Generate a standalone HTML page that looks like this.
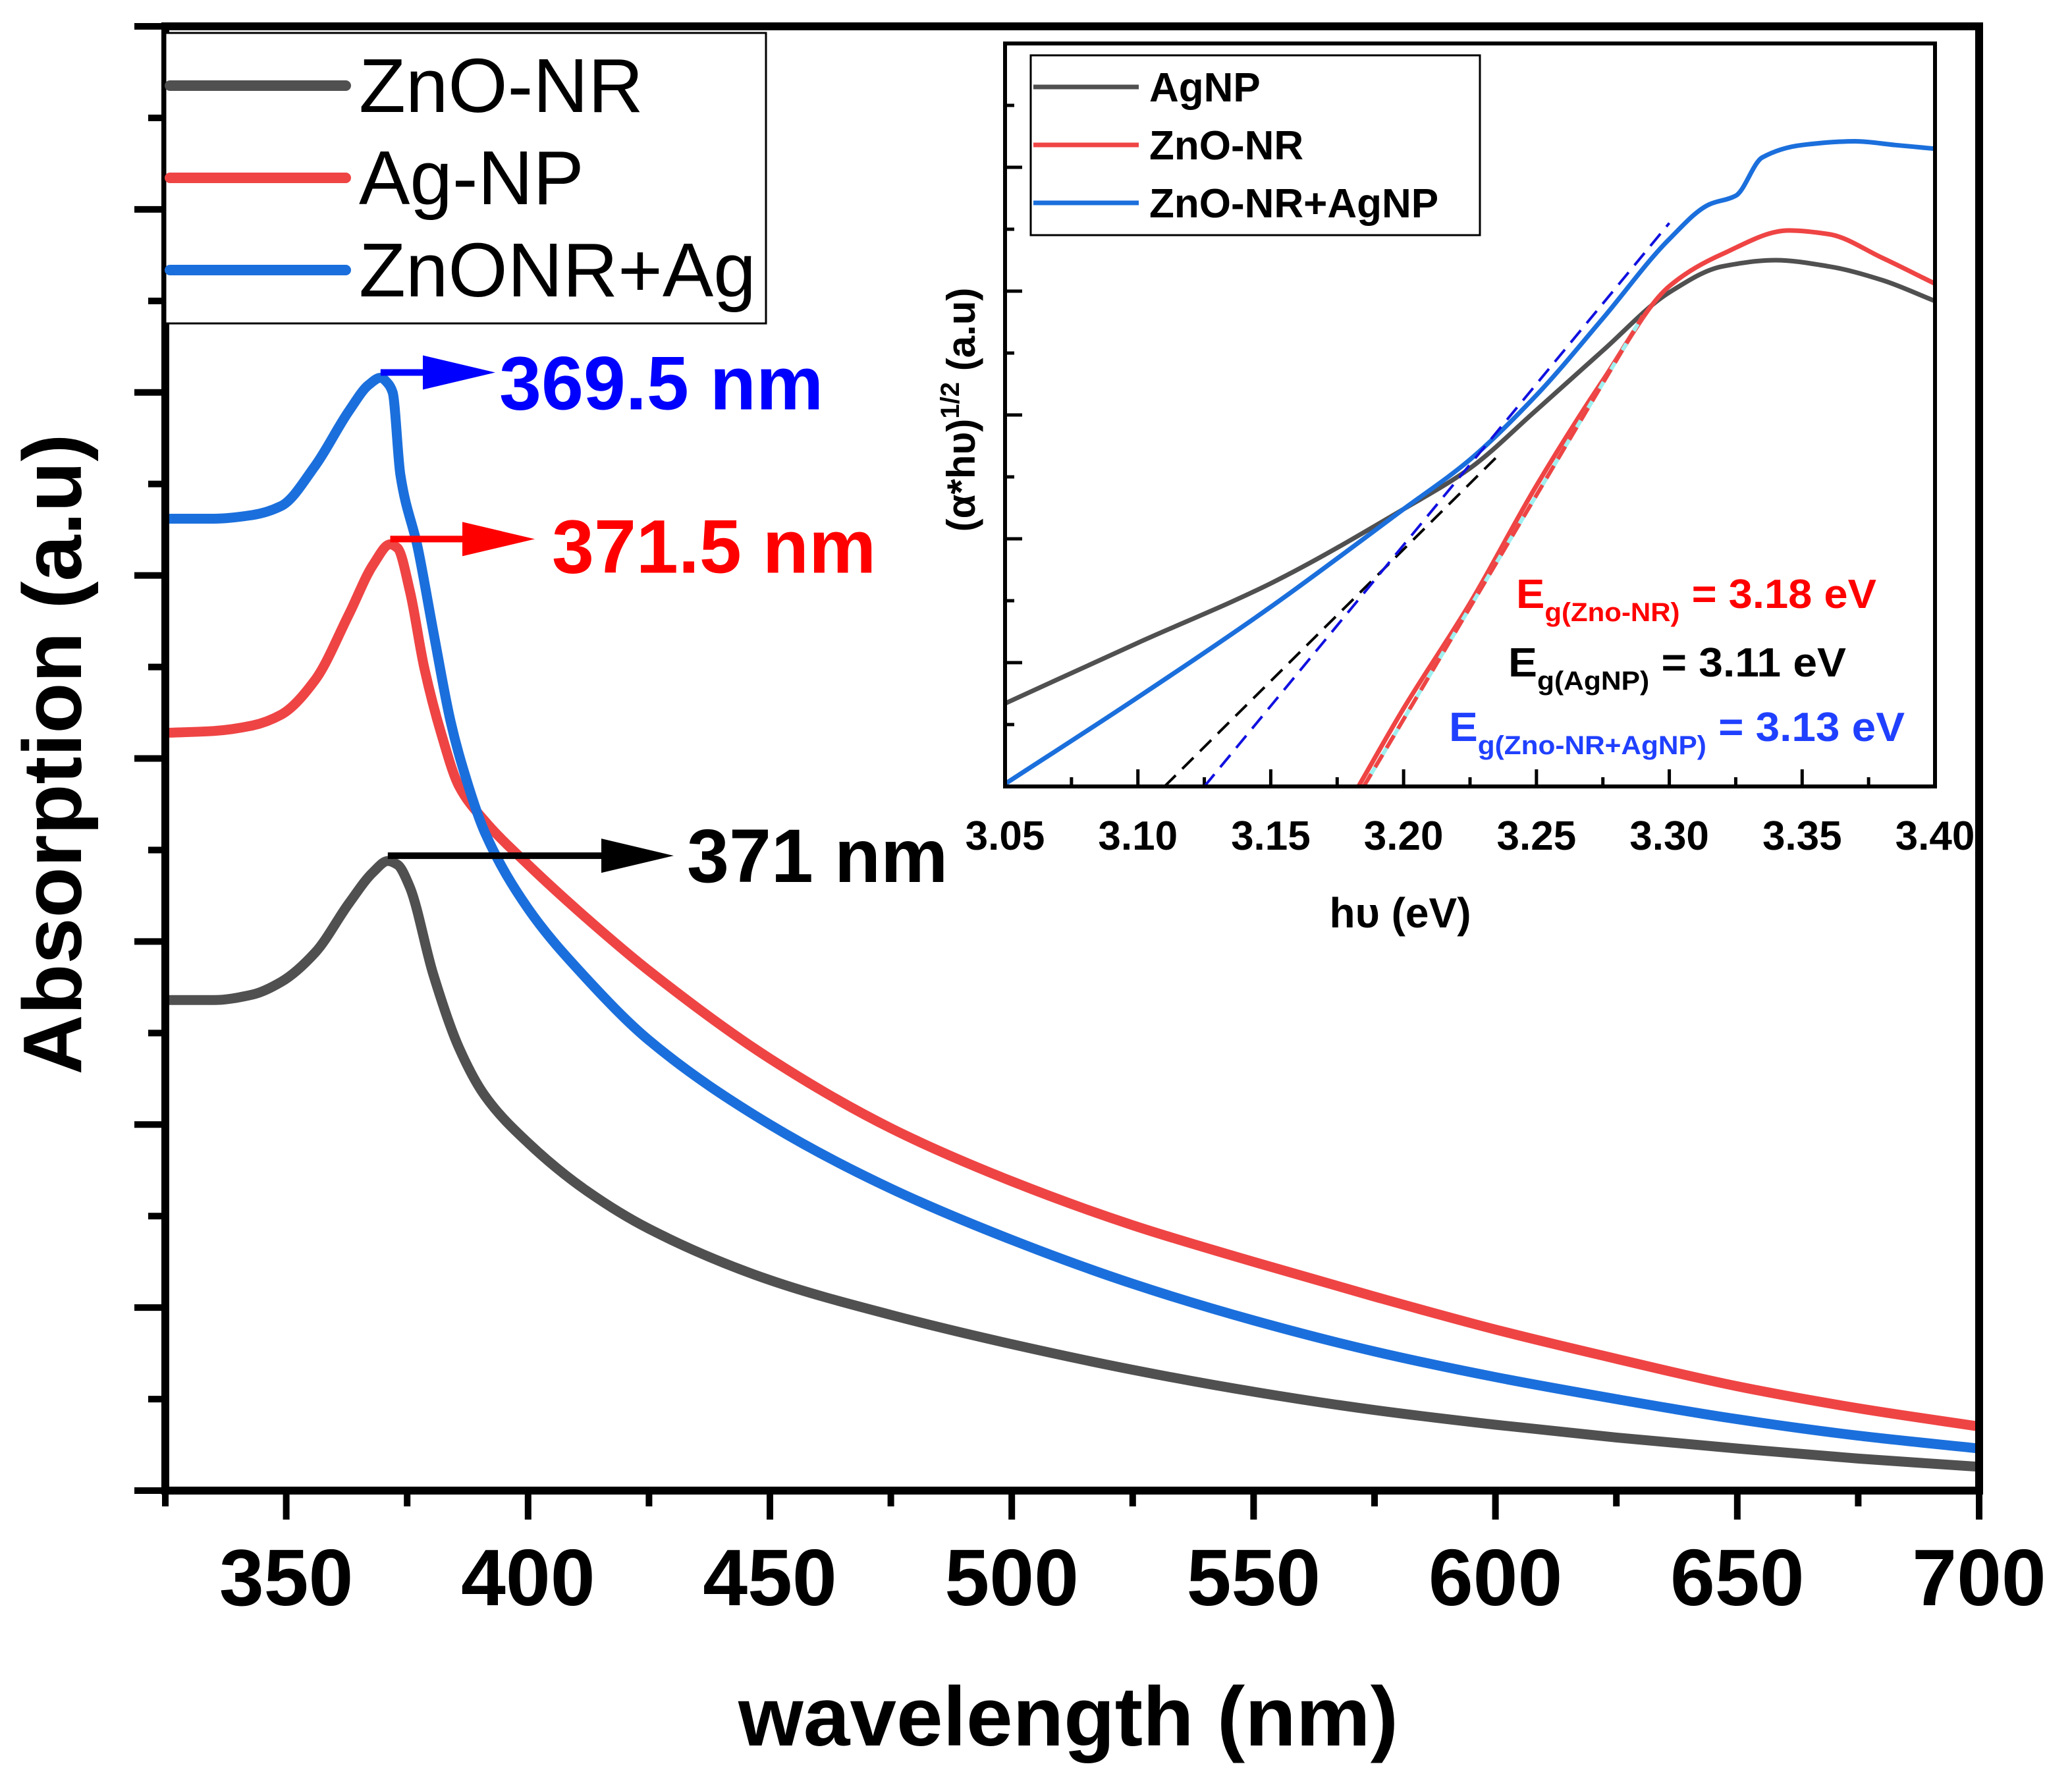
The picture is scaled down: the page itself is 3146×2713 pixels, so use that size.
<!DOCTYPE html>
<html><head><meta charset="utf-8"><style>
html,body{margin:0;padding:0;background:#fff}
svg{display:block}
text{font-family:"Liberation Sans",Arial,sans-serif}
</style></head><body>
<svg id="chart" width="3146" height="2713" viewBox="0 0 3146 2713" xmlns="http://www.w3.org/2000/svg">
<rect width="3146" height="2713" fill="#fff"/>
<g id="main"></g>
<g id="inset"></g>
</svg>
<script>
// ---------- main chart data ----------
const wlBlack = [325,335,343,349,356,363,368,371,373,375.5,380.4,385.7,391,400,412,425,450,475,500,525,550,575,600,625,650,675,700];
const absBlack = [2.68,2.68,2.71,2.78,2.94,3.21,3.38,3.44,3.42,3.3,2.82,2.42,2.16,1.90,1.64,1.43,1.15,0.96,0.80,0.66,0.54,0.44,0.36,0.29,0.23,0.175,0.13];
const wlRed = [325,335,343,349,356,363,368,371.5,373,375.6,378.5,382,385.7,391,400,412,425,450,475,500,525,550,575,600,625,650,675,700];
const absRed = [4.14,4.15,4.18,4.24,4.43,4.79,5.06,5.17,5.15,4.91,4.5,4.14,3.85,3.66,3.42,3.13,2.84,2.36,1.98,1.69,1.45,1.25,1.06,0.88,0.72,0.57,0.45,0.35];
const wlBlue = [325,335,343,349,356,363,367,369.5,371,372,373.6,377.2,380.5,384,386.5,391,400,412,425,450,475,500,525,550,575,600,625,650,675,700];
const absBlue = [5.31,5.31,5.33,5.38,5.6,5.9,6.04,6.08,6.05,6.0,5.55,5.15,4.68,4.2,3.95,3.60,3.18,2.80,2.46,2.00,1.65,1.37,1.13,0.93,0.76,0.62,0.50,0.39,0.30,0.23];
const xTickLabels = [350,400,450,500,550,600,650,700];
const peakWl = [369.5,371.5,371];
const peakLabels = ["369.5 nm","371.5 nm","371 nm"];

// ---------- inset data ----------
const evAg = [3.05,3.10,3.15,3.20,3.225,3.25,3.275,3.30,3.32,3.34,3.36,3.38,3.40];
const yAg = [0.67,1.16,1.64,2.24,2.57,3.04,3.52,3.99,4.2,4.25,4.2,4.09,3.92];
const evZn = [3.183,3.20,3.225,3.25,3.275,3.30,3.32,3.345,3.36,3.38,3.40];
const yZn = [0,0.63,1.48,2.43,3.28,4.04,4.3,4.49,4.46,4.27,4.06];
const evZA = [3.05,3.10,3.15,3.20,3.225,3.25,3.275,3.30,3.315,3.325,3.335,3.35,3.37,3.385,3.40];
const yZA = [0.02,0.72,1.45,2.24,2.64,3.16,3.78,4.42,4.70,4.77,5.08,5.18,5.21,5.18,5.15];
const insetTicks = ["3.05","3.10","3.15","3.20","3.25","3.30","3.35","3.40"];
const gapAg = [3.11,0,3.235,2.66];
const gapZA = [3.125,0,3.30,4.55];
const gapZn = [3.185,0,3.29,3.8];

const NS="http://www.w3.org/2000/svg";
function mk(parent,tag,attrs,name,text){
  const e=document.createElementNS(NS,tag);
  for(const k in attrs)e.setAttribute(k,attrs[k]);
  
  
  if(text!==undefined)e.textContent=text;
  parent.appendChild(e);return e;
}
function smooth(pts){
  const n=pts.length, d=[], m=[];
  for(let i=0;i<n-1;i++) d.push((pts[i+1][1]-pts[i][1])/(pts[i+1][0]-pts[i][0]));
  m[0]=d[0]; m[n-1]=d[n-2];
  for(let i=1;i<n-1;i++){
    if(d[i-1]*d[i]<=0) m[i]=0;
    else { const h0=pts[i][0]-pts[i-1][0],h1=pts[i+1][0]-pts[i][0];
      const w1=2*h1+h0,w2=h1+2*h0; m[i]=(w1+w2)/(w1/d[i-1]+w2/d[i]); }
  }
  let p="M"+pts[0][0].toFixed(1)+","+pts[0][1].toFixed(1);
  for(let i=0;i<n-1;i++){
    const h=(pts[i+1][0]-pts[i][0])/3;
    p+=" C"+(pts[i][0]+h).toFixed(1)+","+(pts[i][1]+m[i]*h).toFixed(1)+" "+(pts[i+1][0]-h).toFixed(1)+","+(pts[i+1][1]-m[i+1]*h).toFixed(1)+" "+pts[i+1][0].toFixed(1)+","+pts[i+1][1].toFixed(1);
  }
  return p;
}
function interp(xs,ys,x){
  for(let i=0;i<xs.length-1;i++) if(x>=xs[i]&&x<=xs[i+1]) return ys[i]+(ys[i+1]-ys[i])*(x-xs[i])/(xs[i+1]-xs[i]);
  return ys[ys.length-1];
}

// ---------- MAIN ----------
const M=document.getElementById('main');
const L=251,R=3005,T=40,B=2263;
const X=nm=>L+(nm-325)/375*(R-L);
const Y=u=>B-u*(B-T)/8;
const C={black:"#505050",red:"#ef4444",blue:"#1b6fdc"};
for(let u=0;u<=8;u+=0.5){
  const maj=Math.abs(u-Math.round(u))<1e-6;
  mk(M,'line',{x1:maj?204:225,x2:L,y1:Y(u),y2:Y(u),stroke:'#000','stroke-width':10},'y-tick');
}
for(let nm=325;nm<=700;nm+=25){
  const maj=nm%50===0;
  mk(M,'line',{x1:X(nm),x2:X(nm),y1:B,y2:B+(maj?44:24),stroke:'#000','stroke-width':10},'x-tick');
}
xTickLabels.forEach(v=>{
  mk(M,'text',{x:X(v),y:2437,'font-size':122,'font-weight':'bold','text-anchor':'middle'},'x-tick-label',String(v));
});
[[wlBlack,absBlack,C.black,'curve-zno-nr'],[wlRed,absRed,C.red,'curve-ag-np'],[wlBlue,absBlue,C.blue,'curve-znonr-ag']].forEach(s=>{
  mk(M,'path',{d:smooth(s[0].map((w,i)=>[X(w),Y(s[1][i])])),fill:'none',stroke:s[2],'stroke-width':15,'stroke-linejoin':'round'},s[3]);
});
mk(M,'rect',{x:L,y:T,width:R-L,height:B-T,fill:'none',stroke:'#000','stroke-width':12},'plot-frame');
const annCol=["#0000ff","#ff0000","#000000"];
const annY=[[wlBlue,absBlue],[wlRed,absRed],[wlBlack,absBlack]];
const tipX=[752,812,1023],txtX=[758,838,1043],txtDy=[56,51,40];
peakWl.forEach((p,i)=>{
  const x0=X(p),y0=Y(interp(annY[i][0],annY[i][1],p))-8;
  mk(M,'line',{x1:x0,x2:tipX[i]-100,y1:y0,y2:y0,stroke:annCol[i],'stroke-width':10},'peak-arrow-line');
  mk(M,'polygon',{points:`${tipX[i]-110},${y0-26} ${tipX[i]},${y0} ${tipX[i]-110},${y0+26}`,fill:annCol[i]},'peak-arrow-head');
  mk(M,'text',{x:txtX[i],y:y0+txtDy[i],'font-size':115,'font-weight':'bold',fill:annCol[i]},'peak-label',peakLabels[i]);
});
mk(M,'rect',{x:251,y:50,width:912,height:441,fill:'#fff',stroke:'#000','stroke-width':3},'legend-box');
[["ZnO-NR",C.black],["Ag-NP",C.red],["ZnONR+Ag",C.blue]].forEach((e,i)=>{
  const y=130+i*140;
  mk(M,'line',{x1:258,x2:525,y1:y,y2:y,stroke:e[1],'stroke-width':16,'stroke-linecap':'round'},'legend-swatch');
  mk(M,'text',{x:545,y:y+40,'font-size':116},'legend-label',e[0]);
});
mk(M,'text',{x:1622,y:2650,'font-size':127,'font-weight':'bold','text-anchor':'middle'},'x-axis-title','wavelength (nm)');
mk(M,'text',{x:0,y:0,'font-size':126,'font-weight':'bold','text-anchor':'middle',transform:'translate(123,1145) rotate(-90)'},'y-axis-title','Absorption (a.u)');

// ---------- INSET ----------
const I=document.getElementById('inset');
const iL=1526,iR=2938,iT=66,iB=1194;
const IX=e=>iL+(e-3.05)/0.35*(iR-iL);
const IY=u=>iB-u*(iB-iT)/6;
mk(I,'rect',{x:iL,y:iT,width:iR-iL,height:iB-iT,fill:'#fff'},'inset-background');
for(let u=0;u<=6;u+=0.5){
  const maj=Math.abs(u-Math.round(u))<1e-6;
  mk(I,'line',{x1:iL,x2:iL+(maj?26:14),y1:IY(u),y2:IY(u),stroke:'#000','stroke-width':5},'inset-y-tick');
}
for(let k=0;k<=14;k++){
  const e=3.05+k*0.025,maj=k%2===0;
  mk(I,'line',{x1:IX(e),x2:IX(e),y1:iB,y2:iB-(maj?26:14),stroke:'#000','stroke-width':5},'inset-x-tick');
}
insetTicks.forEach(t=>{
  mk(I,'text',{x:IX(parseFloat(t)),y:1290,'font-size':62,'font-weight':'bold','text-anchor':'middle'},'inset-x-tick-label',t);
});
const iCol={ag:"#505050",zn:"#ef4444",za:"#1b6fdc"};
mk(I,'path',{d:smooth(evAg.map((e,i)=>[IX(e),IY(yAg[i])])),fill:'none',stroke:iCol.ag,'stroke-width':7},'inset-curve-agnp');
mk(I,'path',{d:smooth(evZn.map((e,i)=>[IX(e),IY(yZn[i])])),fill:'none',stroke:iCol.zn,'stroke-width':7},'inset-curve-zno-nr');
mk(I,'path',{d:smooth(evZA.map((e,i)=>[IX(e),IY(yZA[i])])),fill:'none',stroke:iCol.za,'stroke-width':7},'inset-curve-zno-nr-agnp');
mk(I,'line',{x1:IX(gapZn[0]),y1:IY(gapZn[1]),x2:IX(gapZn[2]),y2:IY(gapZn[3]),stroke:'#9ff0f0','stroke-width':6},'fit-line-zno-nr');
mk(I,'line',{x1:IX(gapZn[0]),y1:IY(gapZn[1]),x2:IX(gapZn[2]),y2:IY(gapZn[3]),stroke:'#ef4444','stroke-width':6,'stroke-dasharray':'22 12'},'fit-dash-zno-nr');
mk(I,'line',{x1:IX(gapAg[0]),y1:IY(gapAg[1]),x2:IX(gapAg[2]),y2:IY(gapAg[3]),stroke:'#000','stroke-width':4,'stroke-dasharray':'24 14'},'fit-line-agnp');
mk(I,'line',{x1:IX(gapZA[0]),y1:IY(gapZA[1]),x2:IX(gapZA[2]),y2:IY(gapZA[3]),stroke:'#1010e0','stroke-width':4,'stroke-dasharray':'24 14'},'fit-line-zno-nr-agnp');
mk(I,'rect',{x:iL,y:iT,width:iR-iL,height:iB-iT,fill:'none',stroke:'#000','stroke-width':6},'inset-frame');
mk(I,'rect',{x:1565,y:84,width:682,height:273,fill:'#fff',stroke:'#000','stroke-width':3},'inset-legend-box');
[["AgNP",iCol.ag],["ZnO-NR",iCol.zn],["ZnO-NR+AgNP",iCol.za]].forEach((e,i)=>{
  const y=132+i*88;
  mk(I,'line',{x1:1569,x2:1729,y1:y,y2:y,stroke:e[1],'stroke-width':7},'inset-legend-swatch');
  mk(I,'text',{x:1745,y:y+22,'font-size':62,'font-weight':'bold'},'inset-legend-label',e[0]);
});
function eg(x,y,sub,val,col,w,name){
  const t=mk(I,'text',{x:x,y:y,'font-size':62,'font-weight':'bold',fill:col,textLength:w,lengthAdjust:'spacingAndGlyphs'},name);
  const a=document.createElementNS(NS,'tspan');a.textContent='E';t.appendChild(a);
  const b=document.createElementNS(NS,'tspan');b.setAttribute('font-size','40');b.setAttribute('dy','20');b.textContent='g('+sub+')';t.appendChild(b);
  const c=document.createElementNS(NS,'tspan');c.setAttribute('dy','-20');c.textContent=' = '+val+' eV';t.appendChild(c);
}
eg(2302,923,'Zno-NR','3.18','#ff0000',547,'bandgap-zno-nr');
eg(2290,1027,'AgNP','3.11','#000000',513,'bandgap-agnp');
eg(2200,1125,'Zno-NR+AgNP','3.13','#2040ff',692,'bandgap-zno-nr-agnp');
mk(I,'text',{x:2126,y:1408,'font-size':64,'font-weight':'bold','text-anchor':'middle'},'inset-x-axis-title','hυ (eV)');
const yt=mk(I,'text',{x:0,y:0,'font-size':60,'font-weight':'bold','text-anchor':'middle',transform:'translate(1480,622) rotate(-90)'},'inset-y-axis-title');
const s1=document.createElementNS(NS,'tspan');s1.textContent='(α*hυ)';yt.appendChild(s1);
const s2=document.createElementNS(NS,'tspan');s2.setAttribute('font-size','40');s2.setAttribute('dy','-24');s2.textContent='1/2';yt.appendChild(s2);
const s3=document.createElementNS(NS,'tspan');s3.setAttribute('dy','24');s3.textContent=' (a.u)';yt.appendChild(s3);
</script>
</body></html>
